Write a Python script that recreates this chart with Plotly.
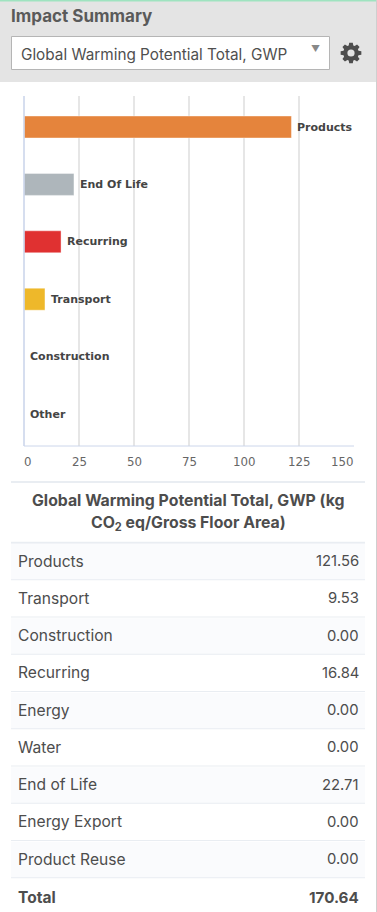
import math
import plotly.graph_objects as go

W, H = 377, 912
categories = ["Products", "End Of Life", "Recurring", "Transport", "Construction", "Other"]
chart_values = [121.56, 22.71, 16.84, 9.53, 0, 0]
bar_colors = ["#E5843C", "#AEB6BB", "#E03131", "#EEB82A", "#cccccc", "#cccccc"]
x_ticks = [0, 25, 50, 75, 100, 125, 150]
x_tick_shift = [4, 0, 0, 0, 0, 0, -12]
table_labels = ["Products", "Transport", "Construction", "Recurring", "Energy", "Water", "End of Life", "Energy Export", "Product Reuse"]
table_values = ["121.56", "9.53", "0.00", "16.84", "0.00", "0.00", "22.71", "0.00", "0.00"]
total_label, total_value = "Total", "170.64"
panel_title = "Impact Summary"
dropdown_text = "Global Warming Potential Total, GWP"
table_title = ["Global Warming Potential Total, GWP (kg", "CO<sub>2</sub> eq/Gross Floor Area)"]

FONT = "Inter"
TEXT = "#4d4d4d"

def px(x): return x / W
def py(y): return 1 - y / H

fig = go.Figure(go.Bar(
    y=categories, x=chart_values, orientation="h", width=0.383,
    marker=dict(color=bar_colors, line=dict(color="rgba(255,255,255,0.4)", width=1)),
    hoverinfo="skip",
))
shapes, ann = [], []

def rect(x0, y0, x1, y1, fill, line=None, layer="below"):
    shapes.append(dict(type="rect", xref="paper", yref="paper", x0=px(x0), x1=px(x1), y0=py(y0), y1=py(y1),
                       fillcolor=fill, line=dict(color=line or fill, width=1 if line else 0), layer=layer))

def text(x, y, s, size=15, color=TEXT, anchor="left", family=FONT, bold=False):
    # annotations carry about 2px of inner padding; compensate so x is the ink edge
    if anchor == "left":
        x -= 2
    elif anchor == "right":
        x += 2
    ann.append(dict(xref="paper", yref="paper", x=px(x), y=py(y), text=f"<b>{s}</b>" if bold else s, showarrow=False,
                    xanchor=anchor, yanchor="middle", align=anchor, font=dict(size=size, color=color, family=family)))

def gear(cx, cy, r_out, r_in, teeth=8):
    pts = []
    step = 2 * math.pi / teeth
    for i in range(teeth):
        a = i * step
        for da, r in [(-0.30, r_in), (-0.17, r_out), (0.17, r_out), (0.30, r_in)]:
            pts.append((cx + r * math.cos(a + da), cy + r * math.sin(a + da)))
    d = "M" + " L".join(f"{px(x):.5f},{py(y):.5f}" for x, y in pts) + " Z"
    shapes.append(dict(type="path", xref="paper", yref="paper", path=d, fillcolor="#4d4d4d", line=dict(width=0), layer="below"))
    shapes.append(dict(type="circle", xref="paper", yref="paper", x0=px(cx - 3.6), x1=px(cx + 3.6), y0=py(cy + 3.6), y1=py(cy - 3.6),
                       fillcolor="#E4E4E4", line=dict(width=0), layer="below"))

# header
rect(0, 0, W, 82, "#E4E4E4")
rect(0, 0, W, 1.5, "#9FE3C0")
rect(376, 0, 377, 912, "#CFCFCF")
rect(11.5, 36.5, 329.5, 69.5, "#FFFFFF", "#B5B5B5")
text(11, 16, panel_title, 17, "#5a5a5a", bold=True)
text(21, 54, dropdown_text, 15.3, "#4f4f4f")
text(315, 49, "▼", 9, "#888888", "center")
gear(351, 53, 10.5, 7.8)

# bar labels
for c, v in zip(categories, chart_values):
    ann.append(dict(xref="x", yref="y", x=v, y=c, text=f"<b>{c}</b>", showarrow=False, xanchor="left",
                    xshift=4, yanchor="middle", font=dict(size=11, color="#444444", family="DejaVu Sans")))

# x tick labels at the offsets the reference uses
for t, s in zip(x_ticks, x_tick_shift):
    ann.append(dict(xref="x", yref="paper", x=t, y=py(462), text=str(t), showarrow=False, xanchor="center", xshift=s,
                    yanchor="middle", font=dict(size=11.8, color="#666666", family="DejaVu Sans")))

# table
rect(11, 481, 365, 483, "#E9EDF2")
text(188.5, 501, table_title[0], 15.8, TEXT, "center", bold=True)
text(188.5, 523, table_title[1], 15.8, TEXT, "center", bold=True)
rect(11, 541.8, 365, 543.8, "#E9EDF2")
row_h = 37.25
top = 542.5
for i, (l, v) in enumerate(zip(table_labels, table_values)):
    y0 = top + i * row_h
    if i % 2 == 0:
        rect(11, y0 + 1.3, 365, y0 + row_h, "#FAFBFD")
    rect(11, y0 + row_h - 0.5, 365, y0 + row_h + 0.5, "#E9EDF2")
    text(18, y0 + row_h / 2, l, 15.6)
    text(359, y0 + row_h / 2, v, 14.8, anchor="right")
text(18, 897, total_label, 15.5, TEXT, bold=True)
text(359, 897, total_value, 15.2, TEXT, "right", bold=True)

fig.update_layout(
    width=W, height=H, margin=dict(l=0, r=0, t=0, b=0, autoexpand=False), showlegend=False,
    paper_bgcolor="#FFFFFF", plot_bgcolor="#FFFFFF", shapes=shapes, annotations=ann,
    xaxis=dict(domain=[px(24), px(354)], range=[0, 150], tickvals=x_ticks, showticklabels=False, showgrid=True,
               gridcolor="#E6E6E6", gridwidth=1.6, zeroline=False, showline=False, ticks=""),
    yaxis=dict(domain=[py(446), py(96)], range=[5.557, -0.54], categoryorder="array", categoryarray=categories,
               showticklabels=False, showline=False, showgrid=False, zeroline=False, ticks=""),
)
# axis lines drawn as thin frame edges on the plot, in the reference's pale blue
shapes.append(dict(type="line", xref="paper", yref="paper", x0=px(24), x1=px(24), y0=py(96), y1=py(446), line=dict(color="#CCD6EB", width=1.6), layer="above"))
shapes.append(dict(type="line", xref="paper", yref="paper", x0=px(24), x1=px(354), y0=py(446), y1=py(446), line=dict(color="#CCD6EB", width=1), layer="above"))
fig.update_layout(shapes=shapes)
fig.write_html("out.html", config={"displayModeBar": False}, post_script="document.body.style.margin='0';document.documentElement.style.overflow='hidden';")
